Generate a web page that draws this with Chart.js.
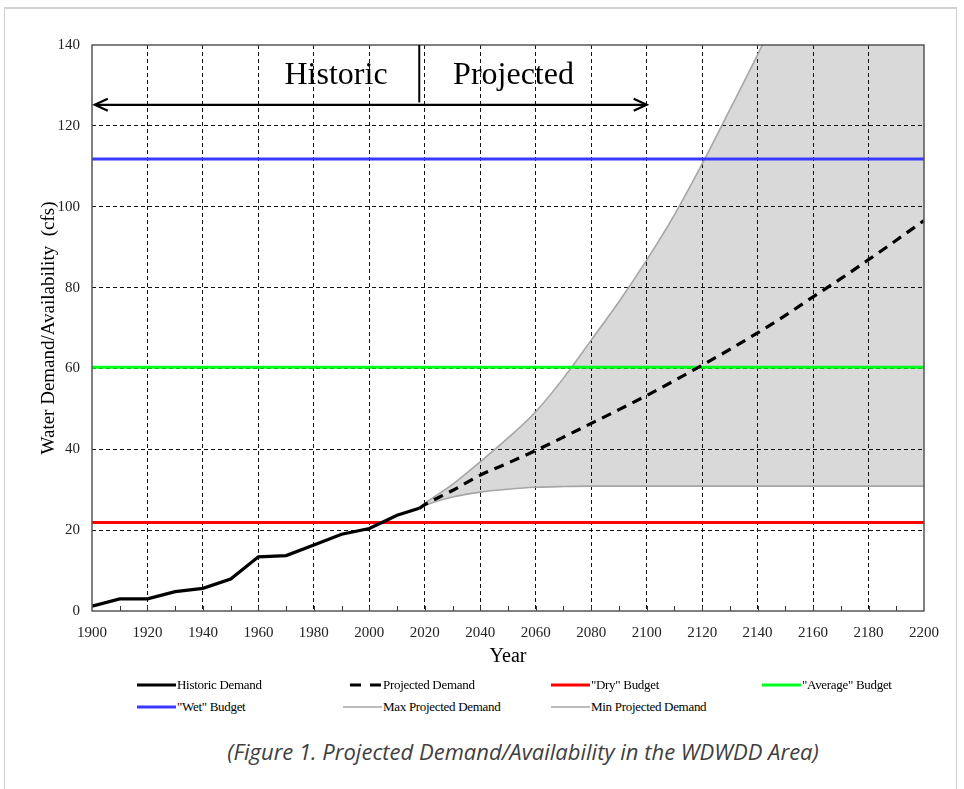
<!DOCTYPE html>
<html>
<head>
<meta charset="utf-8">
<title>Projected Demand/Availability</title>
<script src="https://cdn.jsdelivr.net/npm/chart.js@4.4.1/dist/chart.umd.min.js"></script>
<style>
    html, body { margin: 0; padding: 0; background: #fff; }
    body { width: 964px; height: 789px; position: relative; overflow: hidden; }
    #frame {
        position: absolute; left: 4px; top: 7px; width: 951px; height: 820px;
        border: 1px solid #cfcfcf; border-top: 2px solid #d2d2d2;
    }
    #chartCanvas { position: absolute; left: 0; top: 0; }
    .legend-item {
        position: absolute; display: flex; align-items: center; height: 16px;
        font-family: "Liberation Serif", "DejaVu Serif", serif; font-size: 13px;
        color: #000; white-space: nowrap; letter-spacing: -0.3px;
    }
    .legend-item svg { display: block; margin-right: 1px; }
    #caption {
        position: absolute; left: 0; top: 736px; width: 1046px; text-align: center;
        font-family: "Open Sans", "Noto Sans", sans-serif; font-style: italic;
        font-size: 22px; color: #404040;
    }
</style>
</head>
<body>
<div id="frame"></div>
<canvas id="chartCanvas" width="964" height="680"></canvas>
<div id="legend"></div>
<div id="caption">(Figure 1. Projected Demand/Availability in the WDWDD Area)</div>

<script>
// -------------------- Data --------------------
const historicYears  = [1900, 1910, 1920, 1930, 1940, 1950, 1960, 1970, 1980, 1990, 2000, 2010, 2018];
const historicDemand = [1.2, 3.0, 3.0, 4.8, 5.6, 7.9, 13.4, 13.7, 16.3, 19.0, 20.4, 23.7, 25.4];

const projectedYears  = [2018, 2020, 2030, 2040, 2050, 2060, 2070, 2080, 2090, 2100,
                         2110, 2120, 2130, 2140, 2150, 2160, 2170, 2180, 2190, 2200];
const projectedDemand = [25.4, 26.3, 29.8, 33.6, 36.6, 39.7, 43.0, 46.4, 49.8, 53.3,
                         57.0, 60.8, 64.7, 68.8, 73.1, 77.7, 82.2, 86.9, 91.7, 96.6];
const maxProjected    = [25.4, 26.6, 31.3, 36.9, 42.8, 49.3, 57.6, 67.0, 76.5, 86.8,
                         98.0, 110.6, 124.0, 137.6, 152.0, 167.0, 182.0, 198.0, 214.0, 231.0];
const minProjected    = [25.4, 26.1, 28.2, 29.4, 30.1, 30.6, 30.8, 30.9, 30.9, 30.9,
                         30.9, 30.9, 30.9, 30.9, 30.9, 30.9, 30.9, 30.9, 30.9, 30.9];

const budgetYears   = [1900, 2200];
const dryBudget     = 21.9;
const averageBudget = 60.3;
const wetBudget     = 111.8;

const seriesLabels = ['Historic Demand', 'Projected Demand', '"Dry" Budget', '"Average" Budget',
                      '"Wet" Budget', 'Max Projected Demand', 'Min Projected Demand'];

// annotation: split between historic / projected, arrow span
const splitYear   = 2018;
const arrowFrom   = 1901;
const arrowTo     = 2100;
const arrowLevel  = 125.2;
const splitTop    = 125.8;
const historicLabelYear  = 1988;
const projectedLabelYear = 2052;
const periodLabelLevel   = 132.4;

const toPoints = (xs, ys) => xs.map((x, i) => ({ x: x, y: ys[i] }));
const flat = (xs, v) => xs.map(x => ({ x: x, y: v }));

const SERIF = '"Liberation Serif", "DejaVu Serif", serif';

// -------------------- Plot frame, inner ticks, annotations --------------------
const framePlugin = {
    id: 'frame',
    afterDatasetsDraw(chart) {
        const { ctx, chartArea: a, scales: { x, y } } = chart;
        ctx.save();

        // minor ticks along the bottom every 10 years
        ctx.strokeStyle = '#333';
        ctx.lineWidth = 1;
        for (let yr = 1910; yr < 2200; yr += 10) {
            const px = Math.round(x.getPixelForValue(yr)) + 0.5;
            ctx.beginPath();
            ctx.moveTo(px, a.bottom);
            ctx.lineTo(px, a.bottom - 5);
            ctx.stroke();
        }

        // plot border
        ctx.strokeStyle = '#555';
        ctx.lineWidth = 1.5;
        ctx.strokeRect(a.left, a.top, a.right - a.left, a.bottom - a.top);

        // historic / projected split
        const sx = x.getPixelForValue(splitYear);
        ctx.strokeStyle = '#000';
        ctx.lineWidth = 2;
        ctx.beginPath();
        ctx.moveTo(sx, a.top);
        ctx.lineTo(sx, y.getPixelForValue(splitTop));
        ctx.stroke();

        // double arrow
        const ay = y.getPixelForValue(arrowLevel);
        const x0 = x.getPixelForValue(arrowFrom);
        const x1 = x.getPixelForValue(arrowTo);
        ctx.lineWidth = 2.2;
        ctx.beginPath();
        ctx.moveTo(x0, ay);
        ctx.lineTo(x1, ay);
        ctx.stroke();
        ctx.beginPath();
        ctx.moveTo(x0 + 13, ay - 6);
        ctx.lineTo(x0, ay);
        ctx.lineTo(x0 + 13, ay + 6);
        ctx.moveTo(x1 - 13, ay - 6);
        ctx.lineTo(x1, ay);
        ctx.lineTo(x1 - 13, ay + 6);
        ctx.stroke();

        // period labels
        ctx.fillStyle = '#000';
        ctx.font = '32px ' + SERIF;
        ctx.textAlign = 'center';
        ctx.textBaseline = 'middle';
        const ly = y.getPixelForValue(periodLabelLevel);
        ctx.fillText('Historic', x.getPixelForValue(historicLabelYear), ly);
        ctx.fillText('Projected', x.getPixelForValue(projectedLabelYear), ly);

        ctx.restore();
    }
};

// -------------------- Chart --------------------
const edgeClear = (edgeValues) => (ctx) =>
    (ctx.tick && edgeValues.includes(ctx.tick.value)) ? 'rgba(0,0,0,0)' : '#111';

const chart = new Chart(document.getElementById('chartCanvas'), {
    type: 'line',
    data: {
        datasets: [
            {
                label: seriesLabels[0],
                data: toPoints(historicYears, historicDemand),
                borderColor: '#000', borderWidth: 3.2, pointRadius: 0, tension: 0
            },
            {
                label: seriesLabels[1],
                data: toPoints(projectedYears, projectedDemand),
                borderColor: '#000', borderWidth: 3.2, borderDash: [10, 7], pointRadius: 0,
                cubicInterpolationMode: 'monotone'
            },
            {
                label: seriesLabels[2],
                data: flat(budgetYears, dryBudget),
                borderColor: '#ff0000', borderWidth: 3, pointRadius: 0
            },
            {
                label: seriesLabels[3],
                data: flat(budgetYears, averageBudget),
                borderColor: '#00ff1e', borderWidth: 3, pointRadius: 0
            },
            {
                label: seriesLabels[4],
                data: flat(budgetYears, wetBudget),
                borderColor: '#3a3aff', borderWidth: 3, pointRadius: 0
            },
            {
                label: seriesLabels[5],
                data: toPoints(projectedYears, maxProjected),
                borderColor: '#a6a6a6', borderWidth: 1.6, pointRadius: 0,
                cubicInterpolationMode: 'monotone',
                fill: '+1', backgroundColor: '#d9d9d9'
            },
            {
                label: seriesLabels[6],
                data: toPoints(projectedYears, minProjected),
                borderColor: '#a6a6a6', borderWidth: 1.6, pointRadius: 0,
                cubicInterpolationMode: 'monotone'
            }
        ]
    },
    options: {
        responsive: false,
        animation: false,
        layout: { padding: { left: 34, right: 40, top: 45, bottom: 7 } },
        plugins: {
            legend: { display: false },
            tooltip: { enabled: false },
            filler: { drawTime: 'beforeDraw' }
        },
        scales: {
            x: {
                type: 'linear',
                min: 1900, max: 2200,
                afterFit: (scale) => { scale.height = 62; },
                ticks: {
                    stepSize: 20, padding: 13, color: '#222',
                    font: { family: SERIF, size: 15 },
                    maxRotation: 0,
                    callback: (v) => String(v)
                },
                grid: { color: edgeClear([1900, 2200]), lineWidth: 1, drawTicks: false },
                border: { display: false, dash: [4, 3] },
                title: {
                    display: true, text: 'Year', color: '#000',
                    font: { family: SERIF, size: 20 }
                }
            },
            y: {
                min: 0, max: 140,
                afterFit: (scale) => { scale.width = 58; },
                ticks: {
                    stepSize: 20, padding: 12, color: '#222',
                    font: { family: SERIF, size: 15 }
                },
                grid: { color: edgeClear([0, 140]), lineWidth: 1, drawTicks: false },
                border: { display: false, dash: [4, 3] },
                title: {
                    display: true, text: 'Water Demand/Availability  (cfs)', color: '#000',
                    font: { family: SERIF, size: 19 }
                }
            }
        }
    },
    plugins: [framePlugin]
});

// -------------------- HTML Legend --------------------
const legendCols = [137, 343, 551, 762];
const legendRows = [677, 699];
const legendEl = document.getElementById('legend');

chart.data.datasets.forEach((ds, i) => {
    const item = document.createElement('div');
    item.className = 'legend-item';
    item.style.left = legendCols[i % 4] + 'px';
    item.style.top = legendRows[Math.floor(i / 4)] + 'px';
    const dash = ds.borderDash ? 'stroke-dasharray="11 9"' : '';
    const x1 = ds.borderDash ? 7 : 0;
    item.innerHTML = `
        <svg width="39" height="8"><line x1="${x1}" y1="4" x2="39" y2="4"
            stroke="${ds.borderColor}" stroke-width="${ds.borderWidth}" ${dash}/></svg>
        <span>${ds.label}</span>`;
    legendEl.appendChild(item);
});
</script>
</body>
</html>
